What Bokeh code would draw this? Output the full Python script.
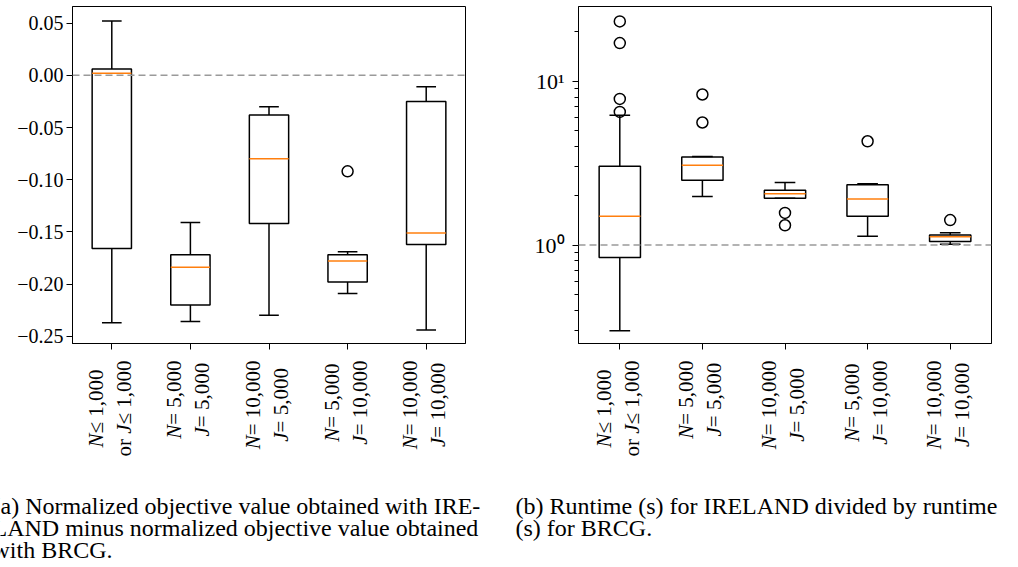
from math import pi

from bokeh.embed import file_html
from bokeh.layouts import column, row
from bokeh.models import (ColumnDataSource, CustomJSTickFormatter, FixedTicker,
                          Label, Range1d, Span)
from bokeh.plotting import figure
from bokeh.resources import INLINE
from bokeh.transform import dodge

# ---------------------------------------------------------------- data
positions = [1, 2, 3, 4, 5]

# (a) normalized objective, IRELAND minus BRCG
obj_whisker_low = [-0.237, -0.236, -0.230, -0.209, -0.244]
obj_q1 = [-0.166, -0.220, -0.142, -0.198, -0.162]
obj_median = [0.002, -0.184, -0.080, -0.178, -0.151]
obj_q3 = [0.006, -0.172, -0.038, -0.172, -0.025]
obj_whisker_high = [0.052, -0.141, -0.030, -0.169, -0.011]
obj_outlier_x = [4]
obj_outlier_y = [-0.092]
obj_ticks = [0.05, 0.0, -0.05, -0.10, -0.15, -0.20, -0.25]

# (b) runtime ratio IRELAND / BRCG
rt_whisker_low = [0.30, 1.98, 1.93, 1.13, 1.01]
rt_q1 = [0.84, 2.49, 1.93, 1.50, 1.05]
rt_median = [1.50, 3.07, 2.06, 1.91, 1.125]
rt_q3 = [3.03, 3.45, 2.16, 2.33, 1.15]
rt_whisker_high = [6.2, 3.47, 2.41, 2.37, 1.19]
rt_outlier_x = [1, 1, 1, 1, 2, 2, 3, 3, 4, 5]
rt_outlier_y = [23.2, 17.1, 7.8, 6.5, 8.3, 5.6, 1.57, 1.32, 4.3, 1.42]
rt_major_ticks = [1, 10]
rt_minor_ticks = [0.3, 0.4, 0.5, 0.6, 0.7, 0.8, 0.9,
                  2, 3, 4, 5, 6, 7, 8, 9, 20]

# category labels (two lines each, N and J with italic letters)
n_rel = ["≤", "=", "=", "=", "="]
n_size = ["1,000", "5,000", "10,000", "5,000", "10,000"]
j_prefix = ["or ", "", "", "", ""]
j_rel = ["≤", "=", "=", "=", "="]
j_size = ["1,000", "5,000", "5,000", "10,000", "10,000"]

caption_a = ["(a) Normalized objective value obtained with IRE-",
             "LAND minus normalized objective value obtained",
             "with BRCG."]
caption_b = ["(b) Runtime (s) for IRELAND divided by runtime",
             "(s) for BRCG."]

# ---------------------------------------------------------------- layout
FONT = "Liberation Serif"
MEDIAN = "#ff7f0e"
LW = 1.5

PAGE_H = 567
PLOT_H = 356          # height of each box-plot canvas
FRAME_TOP = 6
FRAME_BOTTOM = 343    # y of the frame's lower edge
LABEL_H = PAGE_H - PLOT_H

# advance widths (em) of Liberation Serif glyphs used in category labels
REGULAR_W = {**{d: 0.5 for d in "0123456789"}, ",": 0.25, " ": 0.25,
             "=": 0.564, "≤": 0.549, "o": 0.5, "r": 0.333}
ITALIC_W = {"N": 0.667, "J": 0.444}


def text_width(s, size, italic=False):
    table = ITALIC_W if italic else REGULAR_W
    return sum(table.get(ch, 0.5) for ch in s) * size


def make_figure(width, border_left, border_right, y_range, log=False):
    p = figure(width=width, height=PLOT_H,
               x_range=Range1d(0.5, 5.5), y_range=y_range,
               y_axis_type="log" if log else "linear",
               min_border_left=border_left, min_border_right=border_right,
               min_border_top=FRAME_TOP,
               min_border_bottom=PLOT_H - FRAME_BOTTOM,
               output_backend="svg", toolbar_location=None)
    p.frame_align = False
    p.background_fill_color = "white"
    p.border_fill_color = "white"
    p.outline_line_color = "black"
    p.outline_line_width = 1
    p.xgrid.visible = False
    p.ygrid.visible = False
    for ax in (p.xaxis[0], p.yaxis[0]):
        ax.axis_line_color = "black"
        ax.axis_line_width = 1
        ax.major_tick_line_color = "black"
        ax.major_tick_line_width = 1
        ax.major_tick_in = 0
        ax.major_tick_out = 6
        ax.minor_tick_in = 0
        ax.minor_tick_out = 4
        ax.minor_tick_line_color = "black"
        ax.major_label_text_font = FONT
        ax.major_label_text_font_size = "20px"
        ax.major_label_text_color = "black"
    p.xaxis.ticker = FixedTicker(ticks=positions, minor_ticks=[])
    p.xaxis.major_label_overrides = {x: "" for x in positions}
    p.xaxis.major_label_standoff = 0
    return p


def make_label_strip(width, border_left, border_right):
    """Canvas under a box plot whose x scale lines up with the plot above."""
    ppu = (width - border_left - border_right) / 5.0
    s = figure(width=width, height=LABEL_H,
               x_range=Range1d(0.5 - border_left / ppu, 5.5 + border_right / ppu),
               y_range=Range1d(0, LABEL_H),
               x_axis_type=None, y_axis_type=None,
               min_border=0, output_backend="svg", toolbar_location=None)
    s.frame_align = False
    s.outline_line_color = None
    s.background_fill_color = "white"
    s.border_fill_color = "white"
    s.xgrid.visible = False
    s.ygrid.visible = False
    return s


def draw_boxes(p, low, q1, med, q3, high, out_x, out_y):
    src = ColumnDataSource(dict(x=positions, low=low, q1=q1, med=med,
                                q3=q3, high=high))
    p.vbar(x="x", width=0.5, bottom="q1", top="q3", source=src,
           fill_color=None, line_color="black", line_width=LW)
    p.segment(x0="x", x1="x", y0="q3", y1="high", source=src,
              line_color="black", line_width=LW)
    p.segment(x0="x", x1="x", y0="q1", y1="low", source=src,
              line_color="black", line_width=LW)
    for col in ("high", "low"):
        p.segment(x0=dodge("x", -0.125), x1=dodge("x", 0.125),
                  y0=col, y1=col, source=src,
                  line_color="black", line_width=LW)
    p.segment(x0=dodge("x", -0.25), x1=dodge("x", 0.25),
              y0="med", y1="med", source=src,
              line_color=MEDIAN, line_width=LW)
    p.scatter(x=out_x, y=out_y, marker="circle", size=11,
              fill_color=None, line_color="black", line_width=LW)


def page_y(y):
    """Page y (from top) -> strip data y (from its bottom)."""
    return PAGE_H - y


def draw_category_labels(s):
    size = 21
    top = 360            # page y where the rotated label blocks end
    col_offsets = [-16, 12]
    for i, x in enumerate(positions):
        lines = [
            [("N", True), (n_rel[i] + " " + n_size[i], False)],
            [(j_prefix[i], False), ("J", True),
             (j_rel[i] + " " + j_size[i], False)],
        ]
        widths = [sum(text_width(t, size, it) for t, it in ln) for ln in lines]
        block = max(widths)
        for k, ln in enumerate(lines):
            start = page_y(top + block / 2 + widths[k] / 2)
            for text, italic in ln:
                if text:
                    s.add_layout(Label(
                        x=x, y=start, x_offset=col_offsets[k],
                        text=text, angle=pi / 2,
                        text_align="left", text_baseline="middle",
                        text_font=FONT, text_font_size=f"{size}px",
                        text_font_style="italic" if italic else "normal",
                        text_color="black"))
                start += text_width(text, size, italic)


def draw_caption(s, lines, x):
    for k, line in enumerate(lines):
        s.add_layout(Label(
            x=x, x_units="screen", y=page_y(505 + 22 * k),
            text=line, text_align="left", text_baseline="alphabetic",
            text_font=FONT, text_font_size="24px", text_color="black"))


# ---------------------------------------------------------------- (a)
A_W, A_L, A_R = 505, 72, 40
p1 = make_figure(A_W, A_L, A_R, Range1d(-0.257, 0.066))
p1.yaxis.ticker = FixedTicker(ticks=obj_ticks, minor_ticks=[])
p1.yaxis.major_label_standoff = 3
p1.yaxis.formatter = CustomJSTickFormatter(code="""
    const s = Math.abs(tick).toFixed(2);
    return (tick < -1e-9 ? '\u2212' : '') + s;
""")
p1.add_layout(Span(location=0, dimension="width", line_color="#9a9a9a",
                   line_dash="7 4", line_width=LW))
draw_boxes(p1, obj_whisker_low, obj_q1, obj_median, obj_q3,
           obj_whisker_high, obj_outlier_x, obj_outlier_y)
s1 = make_label_strip(A_W, A_L, A_R)
draw_category_labels(s1)
draw_caption(s1, caption_a, -8)

# ---------------------------------------------------------------- (b)
B_W, B_L, B_R = 513, 73, 27
p2 = make_figure(B_W, B_L, B_R, Range1d(0.2505, 28.6), log=True)
p2.yaxis.ticker = FixedTicker(ticks=rt_major_ticks, minor_ticks=rt_minor_ticks)
p2.yaxis.major_label_standoff = 8
p2.yaxis.major_label_text_font_size = "22px"
p2.yaxis.formatter = CustomJSTickFormatter(code="""
    const sup = ['\u2070', '\u00b9', '\u00b2', '\u00b3'];
    const e = Math.round(Math.log10(tick));
    return '10' + sup[e];
""")
p2.add_layout(Span(location=1, dimension="width", line_color="#9a9a9a",
                   line_dash="7 4", line_width=LW))
draw_boxes(p2, rt_whisker_low, rt_q1, rt_median, rt_q3,
           rt_whisker_high, rt_outlier_x, rt_outlier_y)
s2 = make_label_strip(B_W, B_L, B_R)
draw_category_labels(s2)
draw_caption(s2, caption_b, 10)

layout = row(column(p1, s1), column(p2, s2))
open("out.html", "w").write(file_html(layout, INLINE))
